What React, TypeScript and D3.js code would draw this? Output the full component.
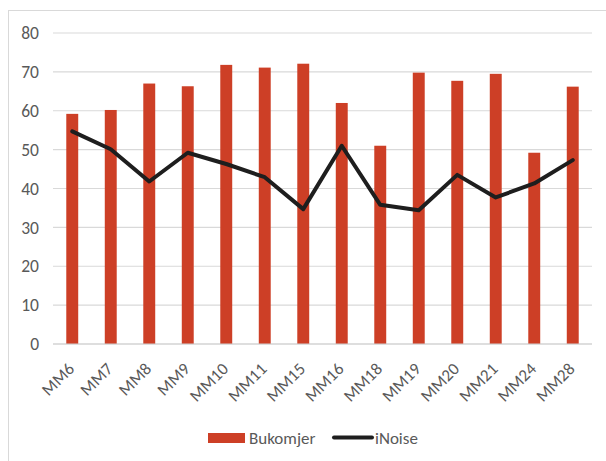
import React from "react";
import * as d3 from "d3";

const categories = ["MM6","MM7","MM8","MM9","MM10","MM11","MM15","MM16","MM18","MM19","MM20","MM21","MM24","MM28"];
const bukomjer = [59.2,60.2,67,66.3,71.8,71.1,72.1,62,51,69.8,67.7,69.5,49.2,66.2];
const iNoise = [54.7,50.1,41.8,49.2,46.3,42.9,34.7,51,35.8,34.4,43.5,37.7,41.3,47.3];
const yTicks = [0,10,20,30,40,50,60,70,80];

export default function App() {
  const W = 606, H = 461;
  const left = 53, right = 592, top = 33, bottom = 344;
  const x = d3.scaleBand<string>().domain(categories).range([left, right]).paddingInner(0.69).paddingOuter(0.345);
  const y = d3.scaleLinear().domain([0, 80]).range([bottom, top]);
  const line = d3.line<number>().x((_, i) => (x(categories[i]) as number) + x.bandwidth() / 2).y(d => y(d));
  const font = "Carlito, Lato, 'Liberation Sans', sans-serif";
  const textColor = "#595959";
  return (
    <svg width={W} height={H} style={{ position: "absolute", left: 0, top: 0 }} fontFamily={font}>
      <rect x={0} y={0} width={W} height={H} fill="#fff" />
      <rect x={8.5} y={10.5} width={W + 10} height={H + 10} fill="none" stroke="#d9d9d9" strokeWidth={1} />
      {yTicks.map(t => (
        <g key={t}>
          <line x1={left} x2={right} y1={y(t)} y2={y(t)} stroke="#d9d9d9" strokeWidth={1.2} />
          <text x={39} y={y(t)} dy="0.35em" textAnchor="end" fontSize={17.5} fill={textColor}>{t}</text>
        </g>
      ))}
      {categories.map((c, i) => (
        <rect key={c} x={x(c)} y={y(bukomjer[i])} width={x.bandwidth()} height={y(0) - y(bukomjer[i])} fill="#cd3f26" />
      ))}
      <line x1={left} x2={right} y1={y(0)} y2={y(0)} stroke="#d0d0d0" strokeWidth={1.2} />
      <path d={line(iNoise) || ""} fill="none" stroke="#1e1e1e" strokeWidth={4} strokeLinejoin="round" strokeLinecap="round" />
      {categories.map(c => {
        const cx = (x(c) as number) + x.bandwidth() / 2 + 3;
        const cy = 370;
        return (
          <text key={c} x={cx} y={cy} textAnchor="end" fontSize={17} fill={textColor} transform={`rotate(-45 ${cx} ${cy})`}>{c}</text>
        );
      })}
      <rect x={208} y={433} width={37} height={10} fill="#cd3f26" />
      <text x={249} y={438} dy="0.35em" fontSize={17} fill={textColor}>Bukomjer</text>
      <line x1={334} x2={372} y1={437.5} y2={437.5} stroke="#1e1e1e" strokeWidth={4} strokeLinecap="round" />
      <text x={375} y={438} dy="0.35em" fontSize={17} fill={textColor}>iNoise</text>
    </svg>
  );
}
